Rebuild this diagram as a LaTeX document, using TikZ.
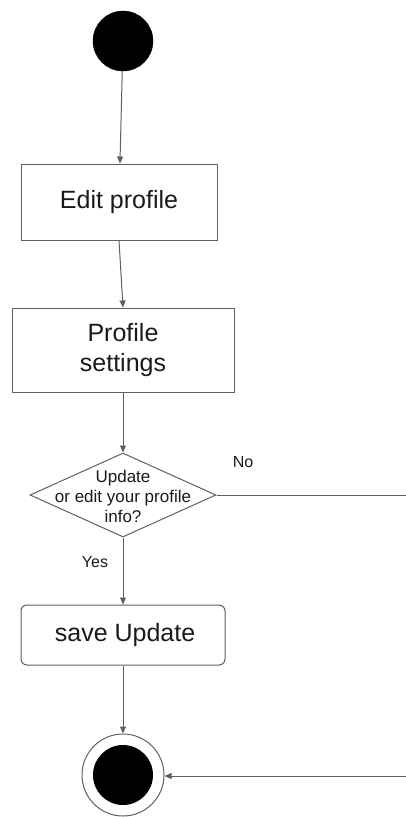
\documentclass[tikz,border=0pt]{standalone}
\usepackage{fontspec}
\setmainfont{Liberation Sans}
\usetikzlibrary{shapes.geometric,arrows.meta}
\definecolor{lc}{HTML}{5F5F5F}
\definecolor{tc}{HTML}{1A1A1A}
\tikzset{
  conn/.style={draw=lc, line width=1pt},
  arr/.style={conn, -{Stealth[length=7pt,width=6pt,inset=0pt]}},
  actbox/.style={draw=lc, line width=1pt, inner sep=0pt, text=tc, align=center,
    font=\fontsize{25}{30}\selectfont},
  lbl/.style={text=tc, inner sep=0pt, font=\fontsize{16}{19}\selectfont},
}
\begin{document}
\begin{tikzpicture}[x=1pt,y=-1pt]
\useasboundingbox (0,0) rectangle (406,817);
% start
\node (start) [circle, fill=black, draw=black, minimum size=60pt, inner sep=0pt] at (123,41) {};
% activities
\node (edit) [actbox, minimum width=196pt, minimum height=76pt] at (119,202) {Edit profile};
\node (settings) [actbox, minimum width=222pt, minimum height=84pt] at (123,350) {Profile\\settings};
% decision
\node (dec) [diamond, draw=lc, line width=1pt, minimum width=186pt, minimum height=84pt, inner sep=0pt] at (123,495) {};
\node (dectext) [text=tc, align=center, inner sep=0pt, font=\fontsize{17}{20}\selectfont] at (123,496) {Update\\or edit your profile\\info?};
\node (no) [lbl] at (243,462) {No};
\node (yes) [lbl] at (95,562) {Yes};
% save
\node (save) [actbox, rounded corners=6pt, minimum width=204pt, minimum height=60pt] at (123,635) {\,save Update};
% end
\node (end) [circle, draw=lc, line width=1pt, minimum size=82pt, inner sep=0pt] at (123,775) {};
\node (endin) [circle, fill=black, minimum size=60pt, inner sep=0pt] at (end.center) {};
\coordinate (noout) at (406,495);
\coordinate (noin) at (406,776);
% connectors
\draw[arr] (start) -- (edit);
\draw[arr] (edit.south) -- (settings.north);
\draw[arr] (settings) -- (dec);
\draw[conn] (dec.east) -- (noout);
\draw[arr] (dec) -- (save);
\draw[arr] (save) -- (end);
\draw[arr] (noin) -- (end.east |- noin);
\end{tikzpicture}
\end{document}
